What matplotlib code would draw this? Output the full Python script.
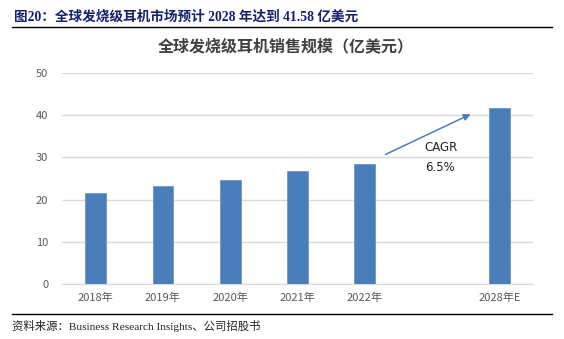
import matplotlib.pyplot as plt

years = ['2018年', '2019年', '2020年', '2021年', '2022年', '2028年E']
positions = [0, 1, 2, 3, 4, 6]
sales = [21.6, 23.3, 24.7, 26.8, 28.4, 41.58]

plt.rcParams['font.family'] = ['Noto Sans CJK SC', 'DejaVu Sans']


def main():
    fig = plt.figure(figsize=(5.64, 3.39), dpi=100)
    ax = fig.add_axes([0.110, 0.162, 0.835, 0.623])

    ax.bar(positions, sales, width=0.31, color='#4a7ebb', edgecolor='#6b97cc',
           linewidth=0.6, zorder=3)
    ax.set_xlim(-0.5, 6.5)
    ax.set_ylim(0, 50)
    ax.set_yticks(range(0, 51, 10))
    ax.set_xticks(positions)
    ax.set_xticklabels(years)
    ax.grid(axis='y', color='#d9d9d9', linewidth=1, zorder=0)
    for side in ['top', 'right', 'left']:
        ax.spines[side].set_visible(False)
    ax.spines['bottom'].set_color('#d9d9d9')
    ax.tick_params(length=0, labelsize=8, labelcolor='#595959', pad=6)
    ax.tick_params(axis='y', pad=10)

    ax.annotate('', xy=(5.61, 40.5), xytext=(4.27, 30.4),
                arrowprops=dict(arrowstyle='-|>', color='#4a7ebb', lw=1.1,
                                mutation_scale=10))
    ax.text(4.89, 32.4, 'CAGR', fontsize=8.5, va='center', ha='left', color='#222222',
            family='DejaVu Sans')
    ax.text(4.89, 27.6, '6.5%', fontsize=8.5, va='center', ha='left', color='#222222',
            family='DejaVu Sans')

    fig.text(0.507, 0.864, '全球发烧级耳机销售规模（亿美元）', ha='center', va='center',
             fontsize=11.5, fontweight='bold', color='#404040')

    fig.text(0.025, 0.95, '图20：全球发烧级耳机市场预计 2028 年达到 41.58 亿美元',
             ha='left', va='center', fontsize=9.8, fontweight='bold', color='#14206e',
             family=['Liberation Serif', 'Noto Sans CJK SC'])
    fig.add_artist(plt.Line2D([0.021, 0.979], [0.920, 0.920], color='black', lw=1))
    fig.add_artist(plt.Line2D([0.021, 0.979], [0.074, 0.074], color='black', lw=1))
    fig.text(0.022, 0.038, '资料来源：Business Research Insights、公司招股书',
             ha='left', va='center', fontsize=8.2, color='#222222',
             family=['Liberation Serif', 'Noto Sans CJK SC'])

    fig.savefig('out.png', dpi=100)


if __name__ == '__main__':
    main()
